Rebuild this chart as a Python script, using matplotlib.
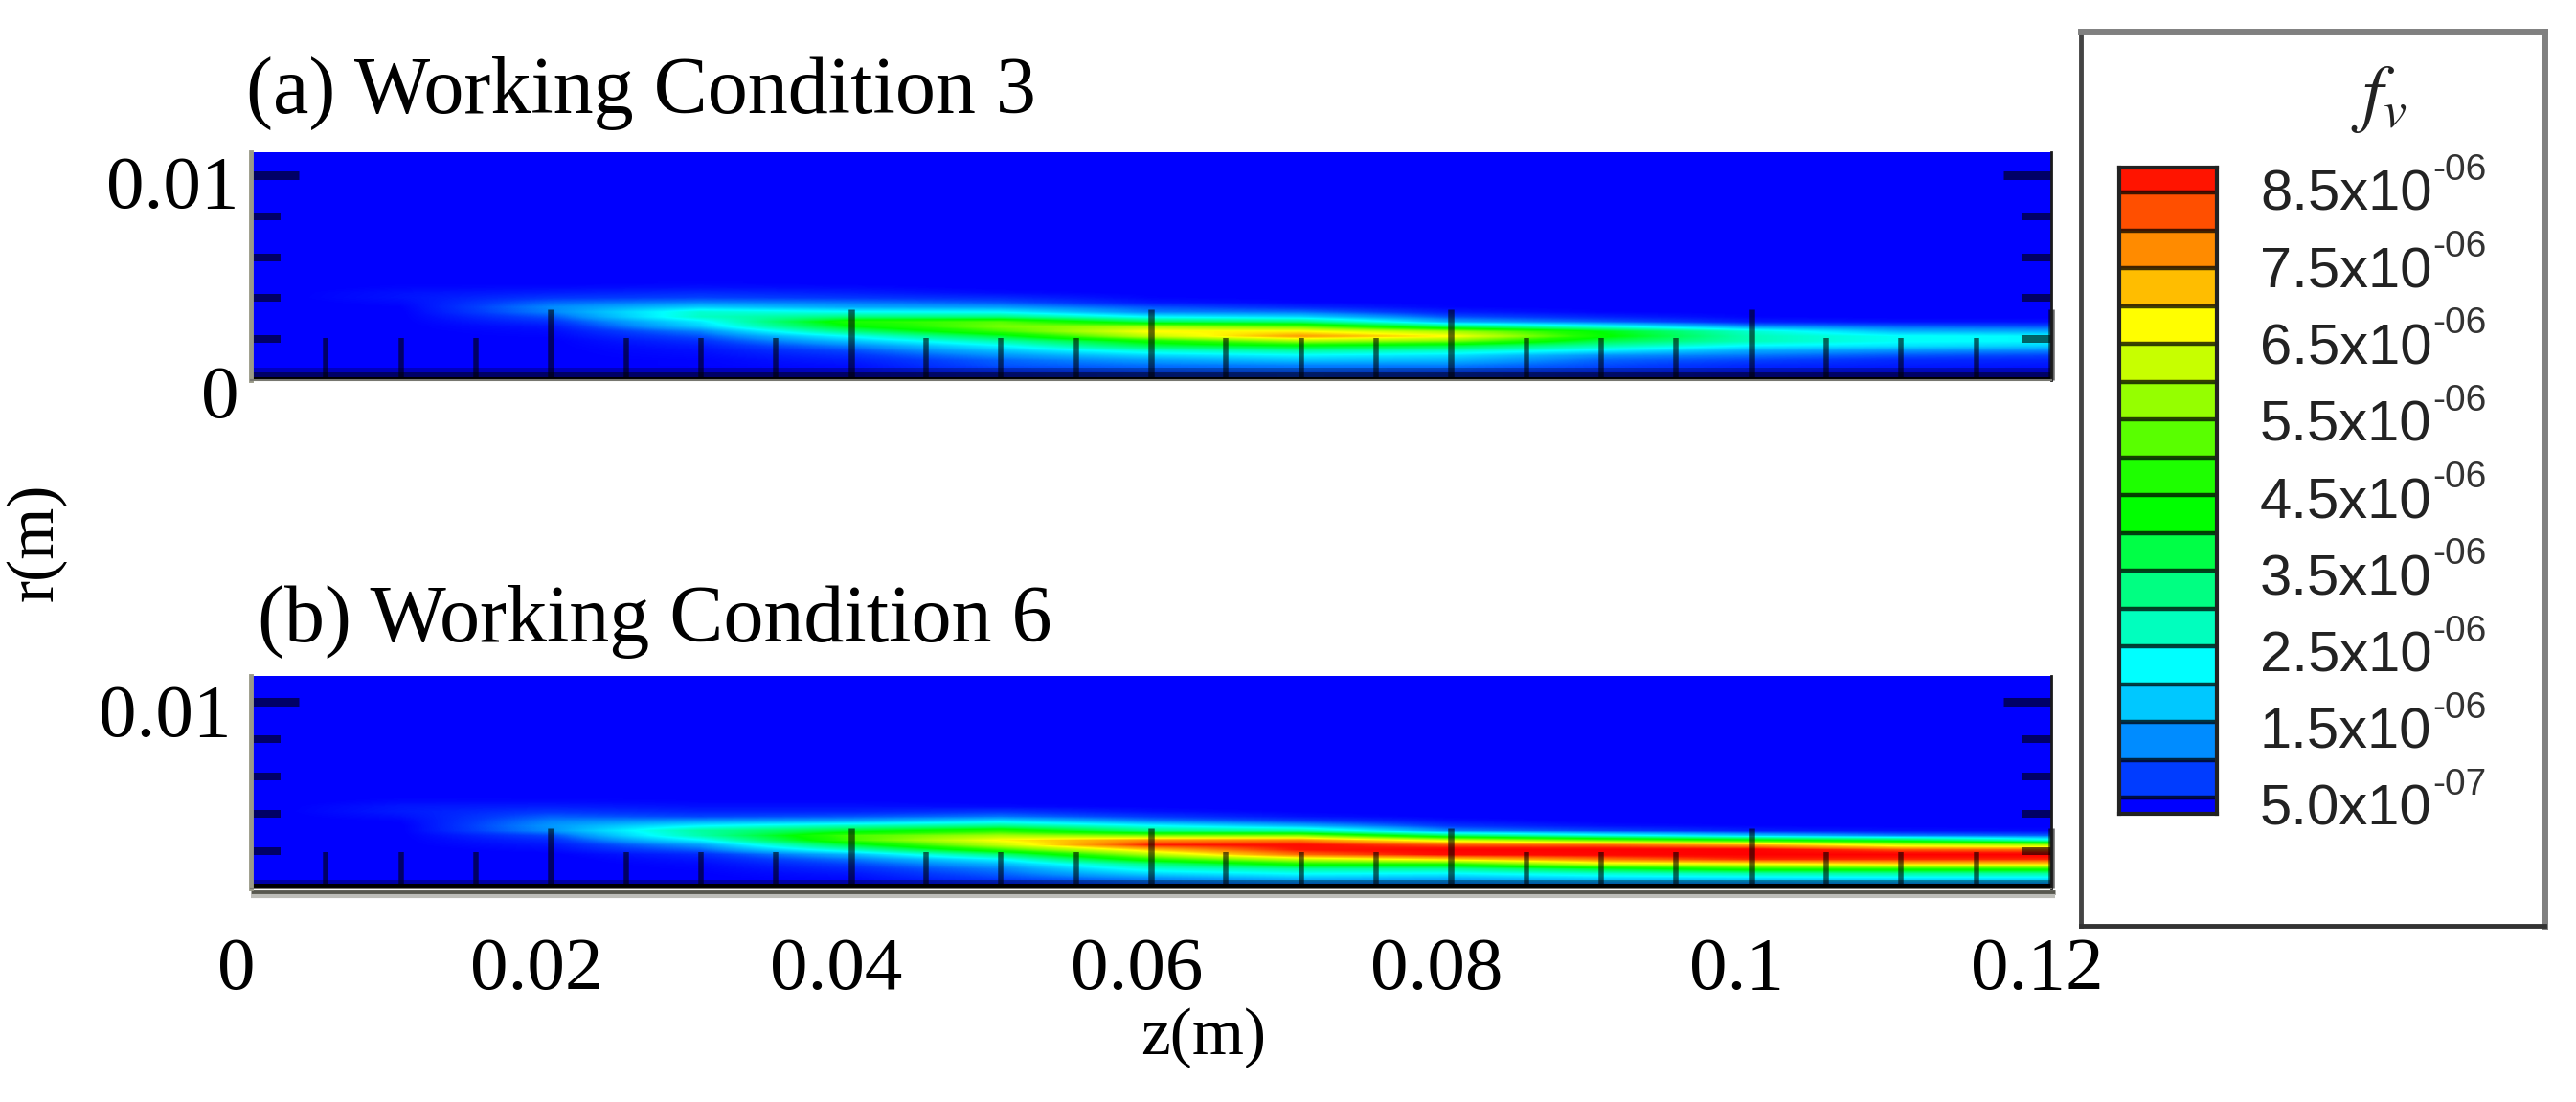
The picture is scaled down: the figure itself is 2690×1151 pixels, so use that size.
import matplotlib
matplotlib.use('Agg')
import matplotlib.pyplot as plt
from matplotlib.colors import LinearSegmentedColormap, Normalize
from matplotlib.transforms import ScaledTranslation
import numpy as np

W, H = 2690, 1151

# fv, in units of 1e-6
# columns are z stations, rows go upward from the axis
z_stations = [0, 0.01, 0.02, 0.03, 0.04, 0.05, 0.06, 0.07, 0.08, 0.09, 0.10, 0.11, 0.12]

fv_case3 = [
    [.2, .25, .25, .25, .30, .50, .70, .80, .70, .50, .35, .30, .30],
    [.2, .25, .25, .25, .35, .70, .90, 1.0, .90, .70, .50, .40, .35],
    [.2, .25, .25, .30, .40, .90, 1.1, 1.2, 1.2, .85, .60, .50, .45],
    [.2, .25, .25, .30, .50, 1.0, 1.4, 1.7, 1.6, 1.0, .80, .60, .55],
    [.2, .25, .25, .35, .65, 1.3, 1.9, 2.2, 2.0, 1.3, 1.1, .90, .80],
    [.2, .25, .25, .40, .85, 1.7, 2.6, 3.0, 2.7, 2.1, 1.5, 1.3, 1.2],
    [.2, .25, .25, .50, 1.2, 2.2, 3.7, 4.2, 3.8, 2.9, 2.2, 2.0, 1.8],
    [.2, .25, .25, .65, 1.7, 2.9, 4.5, 5.9, 5.5, 3.7, 2.8, 2.3, 2.2],
    [.2, .25, .30, .90, 2.3, 3.9, 6.2, 7.6, 6.8, 4.4, 2.8, 2.3, 2.2],
    [.2, .25, .35, 1.2, 3.3, 5.0, 6.8, 6.8, 5.9, 4.2, 2.6, 1.6, 1.5],
    [.2, .25, .45, 1.8, 4.2, 5.5, 5.8, 5.3, 3.4, 2.4, 1.3, 1.0, .90],
    [.2, .25, .65, 2.1, 4.7, 5.2, 3.6, 3.3, 1.5, 1.0, .50, .40, .40],
    [.2, .25, .90, 2.7, 3.3, 3.3, 2.2, 1.9, .90, .55, .30, .25, .25],
    [.2, .25, 1.2, 2.6, 2.3, 2.2, 1.2, 1.1, .50, .30, .25, .20, .20],
    [.2, .28, 1.25, 1.8, 1.5, 1.4, .90, .60, .30, .25, .20, .20, .20],
    [.2, .35, 1.0, 1.2, 1.1, .90, .45, .30, .25, .20, .20, .20, .20],
    [.2, .42, .70, .80, .70, .60, .30, .25, .20, .20, .20, .20, .20],
    [.2, .40, .50, .60, .50, .35, .25, .20, .20, .20, .20, .20, .20],
    [.2, .32, .35, .40, .35, .25, .22, .20, .20, .20, .20, .20, .20],
    [.2, .27, .25, .30, .25, .22, .20, .20, .20, .20, .20, .20, .20],
]

fv_case6 = [
    [.2, .22, .22, .25, .30, .55, 1.0, 1.2, 1.2, 1.3, 1.3, 1.4, 1.4],
    [.2, .22, .22, .25, .35, .80, 1.3, 1.7, 1.6, 1.9, 2.0, 2.1, 2.1],
    [.2, .22, .22, .27, .45, 1.0, 1.9, 2.3, 2.2, 2.6, 2.9, 3.0, 3.0],
    [.2, .22, .22, .30, .60, 1.2, 2.5, 3.0, 3.0, 3.9, 4.7, 4.7, 4.7],
    [.2, .22, .22, .35, .80, 1.6, 3.2, 4.6, 4.7, 6.3, 6.6, 7.0, 7.0],
    [.2, .22, .22, .45, 1.1, 2.2, 4.7, 6.2, 7.0, 7.9, 8.5, 8.5, 8.5],
    [.2, .22, .25, .60, 1.6, 3.3, 6.0, 8.0, 8.8, 8.9, 9.0, 9.0, 9.0],
    [.2, .22, .35, 1.0, 2.7, 4.9, 7.2, 8.7, 9.0, 9.0, 9.0, 8.2, 8.0],
    [.2, .25, .45, 1.4, 3.8, 6.2, 8.6, 8.8, 8.2, 8.1, 7.5, 6.3, 5.9],
    [.2, .25, .60, 2.2, 5.0, 6.8, 7.7, 7.8, 6.3, 5.3, 4.5, 3.8, 2.6],
    [.2, .25, .85, 2.9, 5.1, 5.9, 5.5, 5.6, 3.5, 2.5, 1.8, 1.2, 1.0],
    [.2, .25, 1.3, 3.0, 3.9, 4.7, 3.2, 2.9, 1.2, .80, .50, .40, .35],
    [.2, .25, 1.35, 2.2, 2.8, 3.2, 2.3, 1.6, .70, .40, .30, .25, .25],
    [.2, .30, 1.2, 1.4, 1.5, 2.0, 1.2, .80, .40, .25, .20, .20, .20],
    [.2, .40, .95, .80, .90, 1.1, .70, .40, .25, .20, .20, .20, .20],
    [.2, .48, .70, .55, .55, .70, .40, .27, .20, .20, .20, .20, .20],
    [.2, .45, .50, .40, .40, .35, .27, .20, .20, .20, .20, .20, .20],
    [.2, .35, .35, .30, .30, .25, .22, .20, .20, .20, .20, .20, .20],
    [.2, .28, .27, .25, .25, .22, .20, .20, .20, .20, .20, .20, .20],
    [.2, .25, .22, .22, .22, .20, .20, .20, .20, .20, .20, .20, .20],
]

# height of first row and spacing of rows (metres)
r_case3 = [0.00027, 0.000234]
r_case6 = [0.00028, 0.000256]

titles = ['(a) Working Condition 3', '(b) Working Condition 6']

x_major = [0, 0.02, 0.04, 0.06, 0.08, 0.1, 0.12]
x_major_labels = ['0', '0.02', '0.04', '0.06', '0.08', '0.1', '0.12']
x_minor = [0.005, 0.01, 0.015, 0.025, 0.03, 0.035, 0.045, 0.05, 0.055, 0.065, 0.07, 0.075,
           0.085, 0.09, 0.095, 0.105, 0.11, 0.115]
y_major = [0.01]
y_minor = [0.002, 0.004, 0.006, 0.008]

# colours of the legend bands, from the lowest value up
band_edges = [0.285, 0.5, 1, 1.5, 2, 2.5, 3, 3.5, 4, 4.5, 5, 5.5, 6, 6.5, 7, 7.5, 8, 8.5, 8.83]
band_values = [0.27, 0.75, 1.25, 1.75, 2.25, 2.75, 3.25, 3.75, 4.25, 4.75, 5.25, 5.75, 6.25,
               6.75, 7.25, 7.75, 8.25, 8.67]
band_colors = ['#0000ff', '#003cff', '#008cff', '#00c8ff', '#00ffff', '#00ffbe', '#00ff82',
               '#00ff46', '#00ff00', '#1eff00', '#5aff00', '#96ff00', '#c8ff00', '#ffff00',
               '#ffbe00', '#ff8c00', '#ff5000', '#ff1400']
bar_ticks = [0.5, 1.5, 2.5, 3.5, 4.5, 5.5, 6.5, 7.5, 8.5]
bar_labels = ['5.0x10', '1.5x10', '2.5x10', '3.5x10', '4.5x10', '5.5x10', '6.5x10', '7.5x10', '8.5x10']
bar_exps = ['-07', '-06', '-06', '-06', '-06', '-06', '-06', '-06', '-06']

vmin, vmax = 0.2, 9.0
norm = Normalize(vmin, vmax)
cmap = LinearSegmentedColormap.from_list(
    'fv', [(0, band_colors[0])] + [(norm(v), c) for v, c in zip(band_values, band_colors)] + [(1, '#ff0000')], N=512)

SERIF = 'Liberation Serif'
SANS = 'Liberation Sans'


def px_axes(left, top, right, bottom, **kw):
    return fig.add_axes([left / W, 1 - bottom / H, (right - left) / W, (bottom - top) / H], **kw)


def draw_panel(top, bottom, ymax, fv, r_rows, xmaj_len, xmin_len, black_h, dark_h, dark_a):
    ax = px_axes(262, top, 2142, bottom, facecolor='#0000ff')
    fv = np.array(fv)
    dz = z_stations[1] - z_stations[0]
    r0, dr = r_rows
    ax.imshow(fv, origin='lower', aspect='auto', interpolation='bilinear', cmap=cmap, norm=norm,
              extent=[z_stations[0] - dz / 2, z_stations[-1] + dz / 2, r0 - dr / 2, r0 + dr * (len(fv) - 0.5)])
    # rows below the first one
    ax.imshow(fv[:1], origin='lower', aspect='auto', interpolation='bilinear', cmap=cmap, norm=norm,
              extent=[z_stations[0] - dz / 2, z_stations[-1] + dz / 2, 0, r0 - dr / 2])
    ax.set_xlim(0, 0.12)
    ax.set_ylim(0, ymax)
    ax.axhspan(0, black_h, color='k', lw=0, zorder=1.5)
    ax.axhspan(black_h, dark_h, color='k', alpha=0.6, lw=0, zorder=1.5)
    ax.axhspan(dark_h, dark_h + 0.00023, color='k', alpha=dark_a, lw=0, zorder=1.5)

    ax.spines['top'].set_visible(False)
    ax.spines['left'].set_color('#9a9a88')
    ax.spines['left'].set_linewidth(3.5)
    ax.spines['right'].set_color('#1a1a1a')
    ax.spines['right'].set_linewidth(2)
    ax.spines['bottom'].set_color('#777770')
    ax.spines['bottom'].set_linewidth(1.5)

    tick_c = (0, 0, 0, 0.6)
    ax.set_xticks(x_major)
    ax.set_xticks(x_minor, minor=True)
    ax.set_yticks(y_major)
    ax.set_yticks(y_minor, minor=True)
    ax.tick_params(axis='x', which='major', direction='in', length=xmaj_len * 0.72, width=6.5 * 0.72, color=tick_c)
    ax.tick_params(axis='x', which='minor', direction='in', length=xmin_len * 0.72, width=5.5 * 0.72, color=tick_c)
    ax.tick_params(axis='y', which='major', direction='in', right=True, length=50 * 0.72, width=9 * 0.72, color=tick_c)
    ax.tick_params(axis='y', which='minor', direction='in', right=True, length=31 * 0.72, width=8 * 0.72, color=tick_c)
    ax.set_xticklabels([])
    return ax


fig = plt.figure(figsize=(W / 100, H / 100), dpi=100, facecolor='white')

ax_a = draw_panel(159, 397, 0.01112, fv_case3, r_case3, 74, 44, 0.00014, 0.00037, 0.25)
ax_b = draw_panel(706, 928, 0.01138, fv_case6, r_case6, 63, 38, 0.00025, 0.00025, 0.35)

# shadow under the lower panel
ax_b.plot([0, 1.002], [-0.02, -0.02], transform=ax_b.transAxes, clip_on=False, color='#58584f', lw=3.5, solid_capstyle='butt')
ax_b.plot([0, 1.002], [-0.036, -0.036], transform=ax_b.transAxes, clip_on=False, color='#bdbdb8', lw=3, solid_capstyle='butt')

ax_a.set_yticks([0, 0.01], ['0', '0.01'], fontfamily=SERIF, fontsize=57)
ax_a.tick_params(axis='y', which='major', pad=9)
zero_tick = ax_a.yaxis.get_major_ticks()[0]
zero_tick.tick1line.set_visible(False)
zero_tick.tick2line.set_visible(False)
for lab, dy in zip(ax_a.get_yticklabels(), [-12, -7]):
    lab.set_transform(lab.get_transform() + ScaledTranslation(0, dy / 100, fig.dpi_scale_trans))

ax_b.set_yticks(y_major, ['0.01'], fontfamily=SERIF, fontsize=57)
ax_b.tick_params(axis='y', which='major', pad=15)
for lab in ax_b.get_yticklabels():
    lab.set_transform(lab.get_transform() + ScaledTranslation(0, -9 / 100, fig.dpi_scale_trans))

ax_b.set_xticks(x_major, x_major_labels, fontfamily=SERIF, fontsize=57)
ax_b.tick_params(axis='x', which='major', pad=36)
for lab in ax_b.get_xticklabels():
    lab.set_transform(lab.get_transform() + ScaledTranslation(-15 / 100, 0, fig.dpi_scale_trans))

# the z=0 tick does not show over the left edge
ax_a.xaxis.get_major_ticks()[0].tick1line.set_visible(False)
ax_b.xaxis.get_major_ticks()[0].tick1line.set_visible(False)

fig.text(257 / W, 1 - 118 / H, titles[0], family=SERIF, fontsize=60.5, va='baseline')
fig.text(269 / W, 1 - 670 / H, titles[1], family=SERIF, fontsize=60.5, va='baseline')
fig.text(1257 / W, 1 - 1084 / H, 'z(m)', family=SERIF, fontsize=50, ha='center', va='center')
fig.text(38 / W, 1 - 566 / H, 'r(m)', family=SERIF, fontsize=50, ha='center', va='center', rotation=90)

# legend frame
frame = px_axes(2173, 33, 2657, 967)
frame.set_xticks([])
frame.set_yticks([])
for side, color, lw in [('left', '#444444', 3.5), ('right', '#808080', 5), ('top', '#808080', 5), ('bottom', '#333333', 3.5)]:
    frame.spines[side].set_color(color)
    frame.spines[side].set_linewidth(lw)

# legend bar
cax = px_axes(2213, 175, 2315, 850)
cax.pcolormesh([0, 1], band_edges, np.array(band_values).reshape(-1, 1), cmap=cmap, norm=norm, shading='flat')
cax.hlines(band_edges[1:-1], 0, 1, color='k', alpha=0.75, lw=3.2)
cax.set_xlim(0, 1)
cax.set_ylim(band_edges[0], band_edges[-1])
cax.set_xticks([])
cax.set_yticks([])
for s in cax.spines.values():
    s.set_color('#222222')
    s.set_linewidth(3)

# legend text
tax = px_axes(2360, 220, 2540, 862)
tax.axis('off')
tax.set_xlim(0, 1)
tax.set_ylim(0.5, 8.5)
for t, lab, ex in zip(bar_ticks, bar_labels, bar_exps):
    tax.text(0, t, lab, family=SANS, fontsize=43, color='#222222', va='baseline', ha='left', clip_on=False)
    tax.annotate(ex, (1, t), xytext=(0, 32 * 0.72), textcoords='offset points', family=SANS, fontsize=28, color='#333333',
                 va='baseline', ha='left', annotation_clip=False)
plt.rcParams['mathtext.fontset'] = 'stix'
fig.text(2484 / W, 1 - 103 / H, r'$f_v$', fontsize=56, ha='center', va='center', color='#222222')

fig.savefig('out.png', dpi=100)
